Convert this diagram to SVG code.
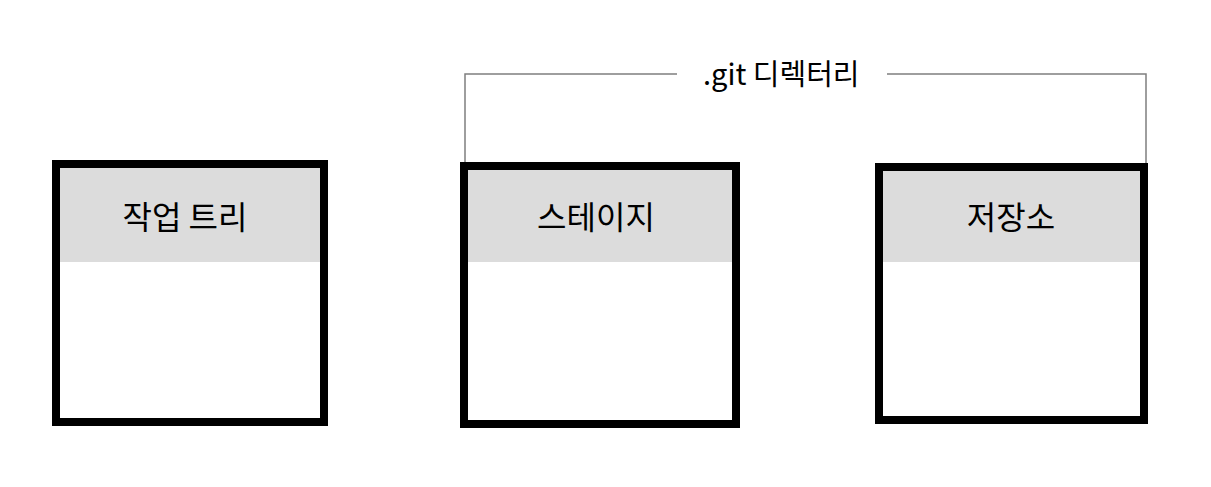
<svg xmlns="http://www.w3.org/2000/svg" width="1211" height="487" viewBox="0 0 1211 487">
<style>
.box{fill:#ffffff;stroke:#000000;stroke-width:8}
.hdr{fill:#dcdcdc}
.lbl{font-family:"Noto Sans CJK KR","Noto Sans",sans-serif;font-size:32px;fill:#000;text-anchor:middle}
.brk{fill:none;stroke:#7f7f7f;stroke-width:1.5}
.git{font-family:"Noto Sans CJK KR","Noto Sans",sans-serif;font-size:29px;fill:#000}
</style>
<rect width="1211" height="487" fill="#ffffff"/>
<g id="connectors">
<path class="brk" d="M465 162 V74 H677"/>
<path class="brk" d="M887 74 H1146 V163"/>
<text class="git" x="703" y="85">.git 디렉터리</text>
</g>
<g id="worktree">
<rect class="box" x="56" y="164" width="268" height="258"/>
<rect class="hdr" x="60" y="168" width="260" height="94"/>
<text class="lbl" x="185" y="229">작업 트리</text>
</g>
<g id="stage">
<rect class="box" x="464" y="166" width="272" height="258"/>
<rect class="hdr" x="468" y="170" width="264" height="92"/>
<text class="lbl" x="596" y="229">스테이지</text>
</g>
<g id="repo">
<rect class="box" x="879" y="167" width="265" height="253"/>
<rect class="hdr" x="883" y="171" width="257" height="91"/>
<text class="lbl" x="1011" y="229">저장소</text>
</g>
</svg>
